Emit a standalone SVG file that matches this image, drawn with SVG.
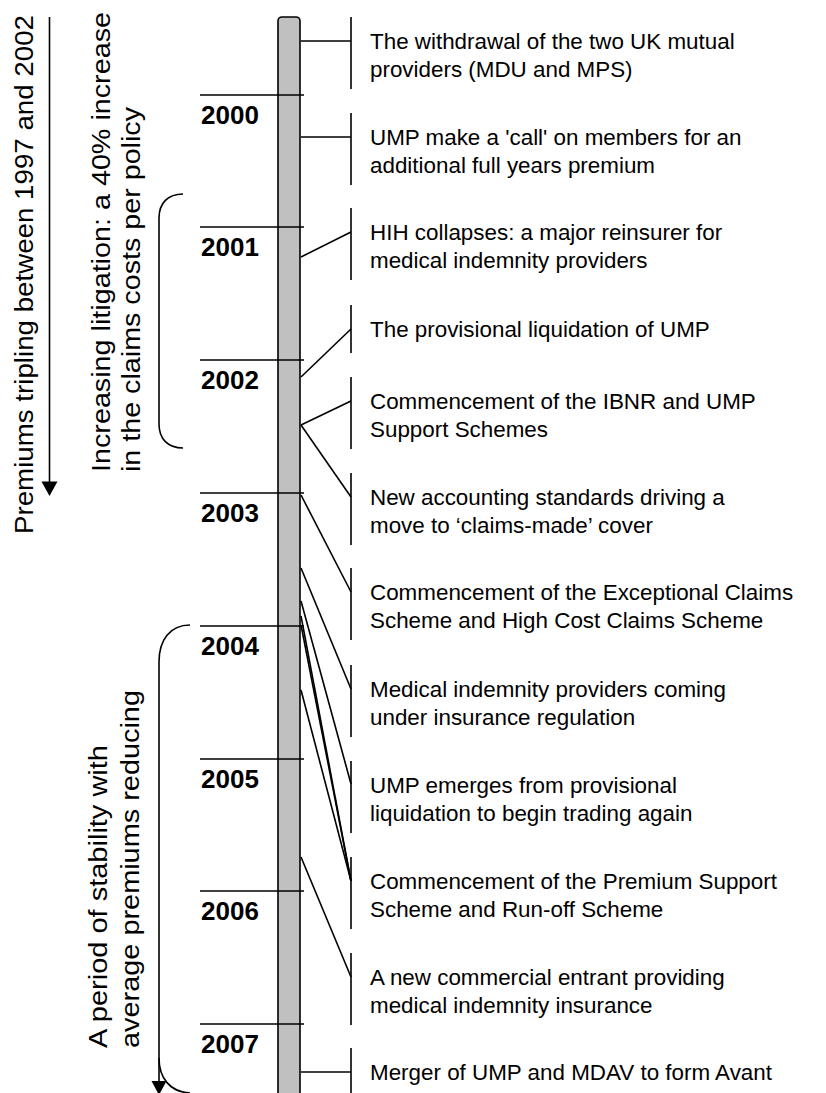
<svg xmlns="http://www.w3.org/2000/svg" width="826" height="1093" viewBox="0 0 826 1093">
<style>
.ln{stroke:#000;stroke-width:1.6;fill:none}
.ev{font-family:"Liberation Sans",Arial,sans-serif;font-size:22.4px;fill:#000}
.yr{font-family:"Liberation Sans",Arial,sans-serif;font-size:26px;font-weight:bold;fill:#000}
.rot{font-family:"Liberation Sans",Arial,sans-serif;font-size:26px;fill:#000}
</style>
<rect width="826" height="1093" fill="#fff"/>
<g id="left-annotations">
<line class="ln" x1="49.5" y1="17" x2="49.5" y2="483"/>
<polygon points="41.5,481.5 57.5,481.5 49.5,496" fill="#000"/>
<text class="rot" transform="translate(33,534) rotate(-90)" textLength="519" lengthAdjust="spacingAndGlyphs">Premiums tripling between 1997 and 2002</text>
<path class="ln" d="M183,194 C168,194 159,203 159,218 L159,424 C159,439 168,448 183,448"/>
<text class="rot" transform="translate(110,472) rotate(-90)" textLength="460" lengthAdjust="spacingAndGlyphs">Increasing litigation: a 40% increase</text>
<text class="rot" transform="translate(140,472) rotate(-90)" textLength="365" lengthAdjust="spacingAndGlyphs">in the claims costs per policy</text>
<path class="ln" d="M190,625 C170,625 159,640 159,662 L159,1083"/>
<path class="ln" d="M159,1058 C159,1078 170,1092 190,1093"/>
<polygon points="151.5,1081 166.5,1081 159,1095" fill="#000"/>
<text class="rot" transform="translate(107,1048) rotate(-90)" textLength="303" lengthAdjust="spacingAndGlyphs">A period of stability with</text>
<text class="rot" transform="translate(139,1048) rotate(-90)" textLength="358" lengthAdjust="spacingAndGlyphs">average premiums reducing</text>
</g>
<g id="timeline">
<rect x="278" y="17" width="22" height="1090" rx="4" fill="#c0c0c0" stroke="#000" stroke-width="1.6"/>
</g>
<g id="years">
<line class="ln" x1="200" y1="95" x2="304" y2="95"/><text class="yr" x="201" y="124">2000</text>
<line class="ln" x1="200" y1="227" x2="304" y2="227"/><text class="yr" x="201" y="256">2001</text>
<line class="ln" x1="200" y1="360" x2="304" y2="360"/><text class="yr" x="201" y="389">2002</text>
<line class="ln" x1="200" y1="493" x2="304" y2="493"/><text class="yr" x="201" y="522">2003</text>
<line class="ln" x1="200" y1="626" x2="304" y2="626"/><text class="yr" x="201" y="655">2004</text>
<line class="ln" x1="200" y1="759" x2="304" y2="759"/><text class="yr" x="201" y="788">2005</text>
<line class="ln" x1="200" y1="891" x2="304" y2="891"/><text class="yr" x="201" y="920">2006</text>
<line class="ln" x1="200" y1="1024" x2="304" y2="1024"/><text class="yr" x="201" y="1053">2007</text>
</g>
<g id="connectors">
<line class="ln" x1="301" y1="41" x2="351" y2="41"/>
<line class="ln" x1="301" y1="137" x2="351" y2="137"/>
<line class="ln" x1="301" y1="257" x2="351" y2="232"/>
<line class="ln" x1="301" y1="377" x2="351" y2="329"/>
<line class="ln" x1="301" y1="425" x2="351" y2="401"/>
<line class="ln" x1="301" y1="425" x2="351" y2="497"/>
<line class="ln" x1="301" y1="495" x2="351" y2="592"/>
<line class="ln" x1="301" y1="568" x2="351" y2="689"/>
<line class="ln" x1="301" y1="601" x2="351" y2="784"/>
<line class="ln" x1="301" y1="616" x2="351" y2="881"/>
<line class="ln" x1="301" y1="625" x2="351" y2="881"/>
<line class="ln" x1="301" y1="690" x2="351" y2="881"/>
<line class="ln" x1="301" y1="857" x2="351" y2="977"/>
<line class="ln" x1="301" y1="1072" x2="351" y2="1072"/>
</g>
<g id="e1"><line class="ln" x1="351" y1="17" x2="351" y2="89"/><text class="ev" x="370" y="49">The withdrawal of the two UK mutual</text><text class="ev" x="370" y="77">providers (MDU and MPS)</text></g>
<g id="e2"><line class="ln" x1="351" y1="113" x2="351" y2="185"/><text class="ev" x="370" y="145">UMP make a 'call' on members for an</text><text class="ev" x="370" y="173">additional full years premium</text></g>
<g id="e3"><line class="ln" x1="351" y1="208" x2="351" y2="280"/><text class="ev" x="370" y="240">HIH collapses: a major reinsurer for</text><text class="ev" x="370" y="268">medical indemnity providers</text></g>
<g id="e4"><line class="ln" x1="351" y1="305" x2="351" y2="353"/><text class="ev" x="370" y="337">The provisional liquidation of UMP</text></g>
<g id="e5"><line class="ln" x1="351" y1="377" x2="351" y2="449"/><text class="ev" x="370" y="409">Commencement of the IBNR and UMP</text><text class="ev" x="370" y="437">Support Schemes</text></g>
<g id="e6"><line class="ln" x1="351" y1="473" x2="351" y2="545"/><text class="ev" x="370" y="505">New accounting standards driving a</text><text class="ev" x="370" y="533">move to ‘claims-made’ cover</text></g>
<g id="e7"><line class="ln" x1="351" y1="568" x2="351" y2="640"/><text class="ev" x="370" y="600">Commencement of the Exceptional Claims</text><text class="ev" x="370" y="628">Scheme and High Cost Claims Scheme</text></g>
<g id="e8"><line class="ln" x1="351" y1="665" x2="351" y2="737"/><text class="ev" x="370" y="697">Medical indemnity providers coming</text><text class="ev" x="370" y="725">under insurance regulation</text></g>
<g id="e9"><line class="ln" x1="351" y1="761" x2="351" y2="833"/><text class="ev" x="370" y="793">UMP emerges from provisional</text><text class="ev" x="370" y="821">liquidation to begin trading again</text></g>
<g id="e10"><line class="ln" x1="351" y1="857" x2="351" y2="929"/><text class="ev" x="370" y="889">Commencement of the Premium Support</text><text class="ev" x="370" y="917">Scheme and Run-off Scheme</text></g>
<g id="e11"><line class="ln" x1="351" y1="953" x2="351" y2="1025"/><text class="ev" x="370" y="985">A new commercial entrant providing</text><text class="ev" x="370" y="1013">medical indemnity insurance</text></g>
<g id="e12"><line class="ln" x1="351" y1="1048" x2="351" y2="1100"/><text class="ev" x="370" y="1080">Merger of UMP and MDAV to form Avant</text></g>
</svg>
